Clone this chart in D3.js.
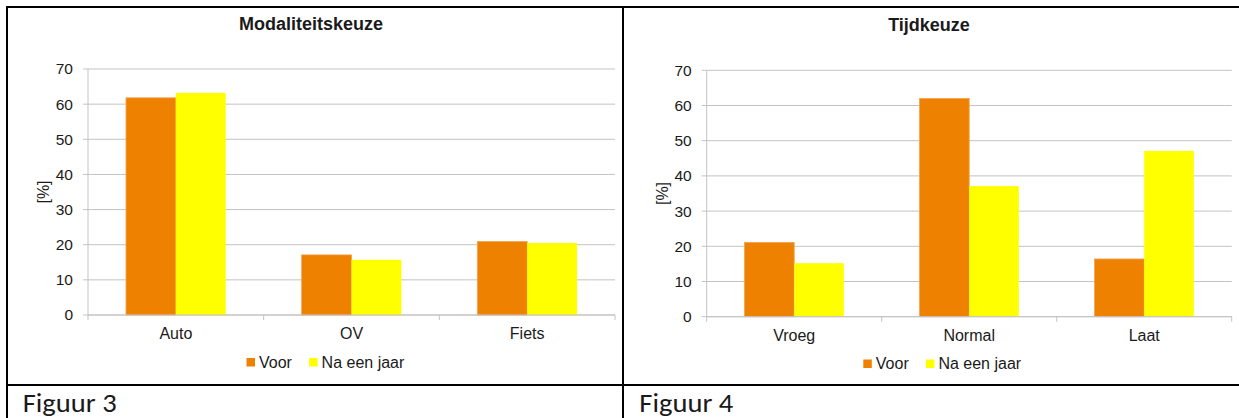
<!DOCTYPE html>
<html>
<head>
<meta charset="utf-8">
<script src="https://cdn.jsdelivr.net/npm/d3@7"></script>
<style>
  html, body { margin: 0; padding: 0; background: #fff; }
  svg { display: block; }
  text { font-family: "Liberation Sans", Arial, sans-serif; fill: #1a1a1a; }
</style>
</head>
<body>
<svg id="chart" width="1239" height="418"></svg>
<script>
// ---- data ----
const seriesNames = ["Voor", "Na een jaar"];
const seriesColors = ["#EE8100", "#FFFF00"];
const yTicks = [0, 10, 20, 30, 40, 50, 60, 70];

const modalTitle = "Modaliteitskeuze";
const modalCategories = ["Auto", "OV", "Fiets"];
const modalVoor = [61.8, 17.1, 20.9];
const modalNaEenJaar = [63.2, 15.7, 20.5];

const timeTitle = "Tijdkeuze";
const timeCategories = ["Vroeg", "Normal", "Laat"];
const timeVoor = [21.1, 62.0, 16.4];
const timeNaEenJaar = [15.2, 37.1, 47.1];

const captions = ["Figuur 3", "Figuur 4"];
const yLabel = "[%]";

// ---- drawing ----
const svg = d3.select("#chart");

function drawChart(cfg) {
  const { left, right, top, bottom, categories, values, title, titleX, legendX, legendY } = cfg;
  const g = svg.append("g");
  const x = d3.scaleBand().domain(categories).range([left, right]).padding(0);
  const inner = x.bandwidth() * 0.2163;
  const x1 = d3.scaleBand().domain(seriesNames).range([inner, x.bandwidth() - inner]).padding(0);
  const y = d3.scaleLinear().domain([0, 70]).range([bottom, top]);

  // gridlines
  g.selectAll("line.grid").data(yTicks).join("line")
    .attr("x1", left - 5).attr("x2", right)
    .attr("y1", d => y(d)).attr("y2", d => y(d))
    .attr("stroke", "#c3c3c3").attr("stroke-width", 1);

  // y axis labels
  const ya = g.append("g").attr("transform", `translate(${left},0)`)
    .call(d3.axisLeft(y).tickValues(yTicks).tickSize(0).tickPadding(15).tickFormat(d3.format("d")));
  ya.select(".domain").remove();
  ya.selectAll("text").style("font-size", "15.5px").style("font-family", "'Liberation Sans', Arial, sans-serif").attr("fill", "#1a1a1a");

  // y axis line
  g.append("line").attr("x1", left).attr("x2", left).attr("y1", top).attr("y2", bottom)
    .attr("stroke", "#c3c3c3");

  // bars
  const rows = categories.map((c, i) => ({ c, vals: seriesNames.map((s, j) => ({ s, v: values[j][i], j })) }));
  g.selectAll("g.cat").data(rows).join("g")
    .attr("transform", d => `translate(${x(d.c)},0)`)
    .selectAll("rect").data(d => d.vals).join("rect")
    .attr("x", d => x1(d.s)).attr("width", x1.bandwidth())
    .attr("y", d => y(d.v)).attr("height", d => y(0) - y(d.v))
    .attr("fill", d => seriesColors[d.j])
    .attr("stroke", d => d.j === 0 ? "#F2A24F" : "none").attr("stroke-width", 0.8);

  // x axis line and ticks at band edges
  g.append("line").attr("x1", left).attr("x2", right).attr("y1", bottom).attr("y2", bottom)
    .attr("stroke", "#c3c3c3");
  const edges = categories.map(c => x(c)).concat([right]);
  g.selectAll("line.xt").data(edges).join("line")
    .attr("x1", d => d).attr("x2", d => d).attr("y1", bottom).attr("y2", bottom + 5)
    .attr("stroke", "#c3c3c3");

  // category labels
  const xa = g.append("g").attr("transform", `translate(0,${bottom})`)
    .call(d3.axisBottom(x).tickSize(0).tickPadding(13));
  xa.select(".domain").remove();
  xa.selectAll("text").style("font-size", "16px").style("font-family", "'Liberation Sans', Arial, sans-serif").attr("fill", "#1a1a1a");

  // y label
  g.append("text")
    .attr("transform", `translate(${left - 39},${(top + bottom) / 2}) rotate(-90)`)
    .attr("text-anchor", "middle").style("font-size", "16px").text(yLabel);

  // title
  g.append("text").attr("x", titleX).attr("y", top - 39)
    .attr("text-anchor", "middle").style("font-size", "18px").style("font-weight", "bold")
    .text(title);

  // legend
  const lg = g.append("g").attr("transform", `translate(${legendX},${legendY})`);
  const offsets = [0, 62.6];
  seriesNames.forEach((s, j) => {
    lg.append("rect").attr("x", offsets[j]).attr("y", -9.5).attr("width", 8.5).attr("height", 8.5)
      .attr("fill", seriesColors[j]);
    lg.append("text").attr("x", offsets[j] + 12.5).attr("y", 0).style("font-size", "16px").text(s);
  });
}

// table borders
svg.append("rect").attr("x", 6).attr("y", 6).attr("width", 1233).attr("height", 2).attr("fill", "#000");
svg.append("rect").attr("x", 6).attr("y", 6).attr("width", 2).attr("height", 412).attr("fill", "#000");
svg.append("rect").attr("x", 622).attr("y", 6).attr("width", 2).attr("height", 412).attr("fill", "#000");
svg.append("rect").attr("x", 6).attr("y", 384).attr("width", 1233).attr("height", 2).attr("fill", "#000");

drawChart({
  left: 88, right: 615, top: 69, bottom: 315,
  categories: modalCategories, values: [modalVoor, modalNaEenJaar],
  title: modalTitle, titleX: 311, legendX: 246.5, legendY: 367.5
});
drawChart({
  left: 706.7, right: 1231.7, top: 70.3, bottom: 316.7,
  categories: timeCategories, values: [timeVoor, timeNaEenJaar],
  title: timeTitle, titleX: 929, legendX: 863.3, legendY: 369
});

// captions
captions.forEach((c, i) => {
  svg.append("text").attr("x", i === 0 ? 22.7 : 639.3).attr("y", 411.5)
    .attr("textLength", 94).attr("lengthAdjust", "spacingAndGlyphs")
    .style("font-family", "Carlito, Calibri, 'Open Sans', sans-serif")
    .style("font-size", "26.5px").attr("fill", "#000").text(c);
});
</script>
</body>
</html>
